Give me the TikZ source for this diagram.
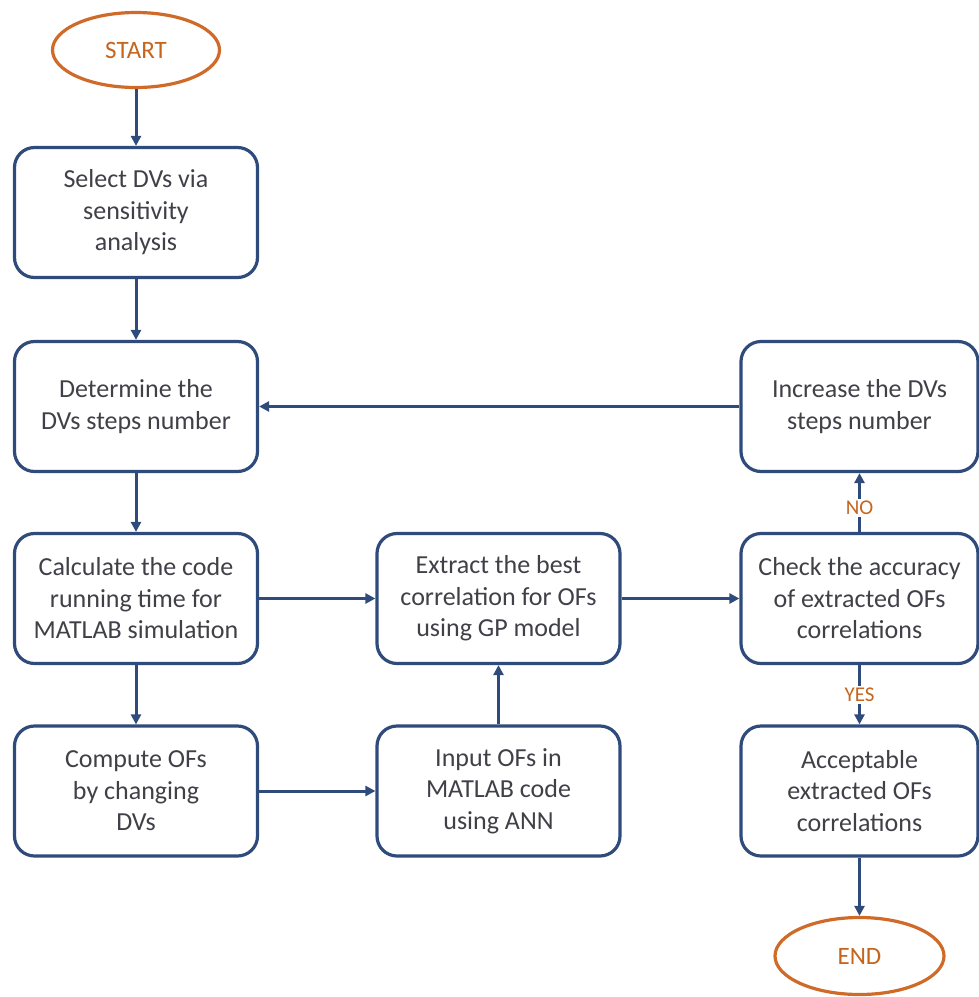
\documentclass[tikz,border=0pt]{standalone}
\usepackage{fontspec}
\setmainfont{Carlito}
\usetikzlibrary{arrows.meta,shapes.geometric}
\definecolor{navy}{HTML}{2F4B7C}
\definecolor{txtgray}{HTML}{404048}
\definecolor{orng}{HTML}{D06A28}
\definecolor{orngtxt}{HTML}{C5651E}
\begin{document}
\begin{tikzpicture}[x=1pt,y=-1pt,
  box/.style={draw=navy, line width=3.2pt, rounded corners=20pt, fill=white,
    minimum width=243pt, minimum height=130pt, align=center, inner sep=0pt,
    text=txtgray, font=\fontsize{26}{31.5}\selectfont},
  term/.style={ellipse, draw=orng, line width=3.2pt, fill=white, inner sep=0pt,
    text=orngtxt, font=\fontsize{25}{30}\selectfont},
  conn/.style={draw=navy, line width=3pt, -{Triangle[length=10pt,width=10pt]}},
  lbl/.style={fill=white, text=orngtxt, inner sep=2pt, font=\fontsize{21}{25}\selectfont}]
\useasboundingbox (0,0) rectangle (979,997);

\node[term, minimum width=167pt, minimum height=75pt] (start) at (136,50) {START};
\node[box] (b1) at (136,212.5) {Select DVs via\\sensitivity\\analysis};
\node[box] (b2) at (136,406.5) {Determine the\\DVs steps number};
\node[box] (b3) at (136,598.5) {Calculate the code\\running time for\\MATLAB simulation};
\node[box] (b4) at (136,791) {Compute OFs\\by changing\\DVs};
\node[box] (ext) at (498.5,598.5) {Extract the best\\correlation for OFs\\using GP model};
\node[box] (inp) at (498.5,791) {Input OFs in\\MATLAB code\\using ANN};
\node[box, minimum width=237pt] (inc) at (859.5,406.5) {Increase the DVs\\steps number};
\node[box, minimum width=237pt] (chk) at (859.5,598.5) {Check the accuracy\\of extracted OFs\\correlations};
\node[box, minimum width=237pt] (acc) at (859.5,791) {Acceptable\\extracted OFs\\correlations};
\node[term, minimum width=169pt, minimum height=77pt] (finish) at (859.5,956) {END};

\draw[conn] (start.south) -- (b1.north);
\draw[conn] (b1.south) -- (b2.north);
\draw[conn] (b2.south) -- (b3.north);
\draw[conn] (b3.south) -- (b4.north);
\draw[conn] (b3.east) -- (ext.west);
\draw[conn] (ext.east) -- (chk.west);
\draw[conn] (b4.east) -- (inp.west);
\draw[conn] (inp.north) -- (ext.south);
\draw[conn] (inc.west) -- (b2.east);
\draw[conn] (chk.north) -- node[lbl, pos=0.41] {NO} (inc.south);
\draw[conn] (chk.south) -- node[lbl, pos=0.5] {YES} (acc.north);
\draw[conn] (acc.south) -- (finish.north);
\end{tikzpicture}
\end{document}
